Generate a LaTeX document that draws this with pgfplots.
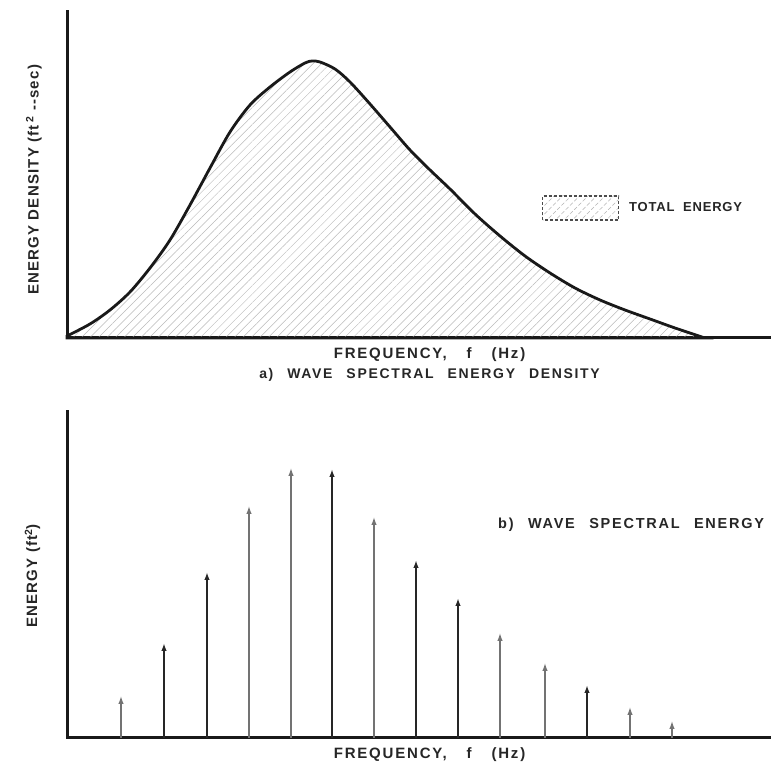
\documentclass[border=0pt]{standalone}
\usepackage{fontspec}
\setmainfont{Liberation Sans}[LetterSpace=12, WordSpace=2.5]
\newfontfamily\yfont{Liberation Sans}[LetterSpace=8]
\newfontfamily\legfont{Liberation Sans}[LetterSpace=6, WordSpace=2]
\usepackage{pgfplots}
\pgfplotsset{compat=1.18}
\usetikzlibrary{patterns.meta, arrows.meta}

\pgfplotsset{
  myax/.style={
    scale only axis, width=704pt, height=326pt,
    xmin=0, xmax=704, ymin=0, ymax=326,
    axis lines=left,
    axis line style={-, line width=3pt, black!90, line cap=rect},
    xtick=\empty, ytick=\empty, clip=false,
  }
}

\begin{document}
\begin{tikzpicture}[x=1pt,y=1pt]
\useasboundingbox (0,0) rectangle (771,767);

% ---------- a) spectral energy density ----------
\begin{axis}[myax, at={(67pt,429pt)}, anchor=south west,
  xlabel={\fontsize{15}{20}\selectfont FREQUENCY,\hspace{5pt} f\hspace{5pt} (Hz)\\\fontsize{14}{20}\selectfont a) WAVE SPECTRAL ENERGY DENSITY},
  xlabel style={align=center, at={(axis description cs:0.515,-0.018)}, anchor=north,
    font=\bfseries\fontsize{14}{20}\selectfont, text=black!85},
  ylabel={\yfont\bfseries ENERGY DENSITY (ft\,\textsuperscript{2} --sec)},
  ylabel style={at={(axis description cs:-0.047,0.485)}, anchor=center,
    font=\fontsize{15}{17}\selectfont, text=black!85},
  legend style={at={(axis cs:475,130)}, anchor=west, draw=none, fill=none,
    inner sep=0pt, outer sep=0pt, font=\legfont\bfseries\fontsize{13}{15}\selectfont,
    text=black!85},
  legend cell align=left,
]
\addlegendimage{legend image code/.code={%
  \draw[densely dashed, line width=1.2pt, gray!60!black,
        pattern={Lines[angle=45,distance=6pt,line width=0.5pt]}, pattern color=gray!60]
        (0pt,-12pt) rectangle (76pt,12pt);}}
\addlegendentry{\hspace{8pt}TOTAL ENERGY}
\addplot[forget plot, smooth, line width=2.8pt, black!90,
  pattern={Lines[angle=45,distance=6pt,line width=0.5pt]}, pattern color=gray!55]
  coordinates {
  (0,2) (23,14) (43,28) (63,46) (83,70) (103,98) (123,133) (143,170)
  (163,206) (183,233) (203,251) (223,266) (238,275) (245,277) (253,276)
  (268,269) (283,256) (303,234) (323,211) (343,188) (363,168) (383,149)
  (408,124) (433,102) (458,82) (483,65) (508,50) (533,38) (558,28)
  (583,19) (608,10) (638,0)
  } \closedcycle;
\end{axis}

% ---------- b) spectral energy ----------
\begin{axis}[myax, at={(67pt,29pt)}, anchor=south west,
  xlabel={FREQUENCY,\hspace{5pt} f\hspace{5pt} (Hz)},
  xlabel style={at={(axis description cs:0.515,-0.018)}, anchor=north,
    font=\bfseries\fontsize{15}{17}\selectfont, text=black!85},
  ylabel={\yfont\bfseries ENERGY (ft\textsuperscript{2})},
  ylabel style={at={(axis description cs:-0.049,0.497)}, anchor=center,
    font=\fontsize{15}{17}\selectfont, text=black!85},
]
% thin arrows
\addplot[quiver={u=\thisrow{u}, v=\thisrow{v}}, line width=1.3pt, black!55,
  -{Latex[length=8pt,width=5.5pt]}] table {
x y u v
54 0 0 42
182 0 0 232
224 0 0 270
307 0 0 221
433 0 0 105
478 0 0 75
563 0 0 31
605 0 0 17
};
% thick arrows
\addplot[quiver={u=\thisrow{u}, v=\thisrow{v}}, line width=2.2pt, black!85,
  -{Latex[length=8pt,width=5.5pt]}] table {
x y u v
97 0 0 95
140 0 0 166
265 0 0 269
349 0 0 178
391 0 0 140
520 0 0 53
};
\node[anchor=west, font=\bfseries\fontsize{14.5}{17}\selectfont, inner sep=0pt, text=black!85]
  at (axis cs:431,213) {b) WAVE SPECTRAL ENERGY};
\end{axis}
\end{tikzpicture}
\end{document}
